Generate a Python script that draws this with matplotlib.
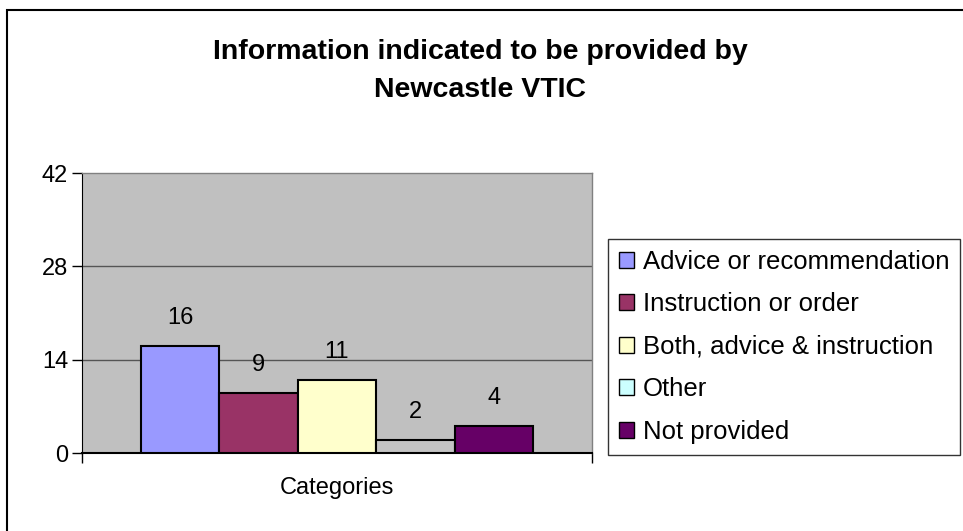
import matplotlib
matplotlib.use("Agg")
import matplotlib.pyplot as plt
from matplotlib.patches import Rectangle
import numpy as np

plt.rcParams['font.family'] = ['Liberation Sans', 'DejaVu Sans']

title = "Information indicated to be provided by\nNewcastle VTIC"
series = ["Advice or recommendation", "Instruction or order", "Both, advice & instruction", "Other", "Not provided"]
values = [16, 9, 11, 2, 4]
colors = ["#9999FF", "#993366", "#FFFFCC", "#CCFFFF", "#660066"]
bar_fill = ["#9999FF", "#993366", "#FFFFCC", "#C4C4C4", "#660066"]
category = "Categories"
yticks = [0, 14, 28, 42]

FS = 17
W, H = 963, 531
fig = plt.figure(figsize=(W / 100, H / 100), dpi=100)
fig.patch.set_facecolor("white")
fig.add_artist(Rectangle((7 / W, 1 - 545 / H), (975 - 7) / W, (545 - 10) / H,
                         transform=fig.transFigure, fill=False, edgecolor="black", lw=1.5))

L, R, T, B = 82, 592, 173, 453
ax = fig.add_axes([L / W, 1 - B / H, (R - L) / W, (B - T) / H])
ax.set_facecolor("#C0C0C0")
ax.set_xlim(-0.5, 0.5)
ax.set_ylim(0, 42)
w = 78.4 / (R - L)
for i, (s, v, c, bf) in enumerate(zip(series, values, colors, bar_fill)):
    x = (i - 2) * w
    ax.bar(x, v, width=w, color=bf, edgecolor="black", lw=1.5, zorder=3)
    ax.text(x, v + 3.3, str(v), ha="center", va="baseline", fontsize=FS, zorder=4)
    ax.bar(np.nan, 0, color=c, edgecolor="black", lw=1, label=s)

for yv in yticks[1:3]:
    ax.axhline(yv, color="#555555", lw=1, zorder=1)

ax.set_yticks(yticks)
ax.set_yticklabels([str(t) for t in yticks], fontsize=FS)
ax.set_xticks([-0.5, 0.5])
ax.set_xticklabels(["", ""])
ax.tick_params(axis="y", length=7, width=1, direction="out", pad=3)
ax.tick_params(axis="x", length=7, width=1, direction="out")
ax.text(0, -5.3, category, ha="center", va="center", fontsize=FS)
for sp in ["top", "right"]:
    ax.spines[sp].set_color("#808080")
    ax.spines[sp].set_linewidth(1)
ax.spines["left"].set_color("black")
ax.spines["bottom"].set_color("black")
ax.spines["bottom"].set_linewidth(1.5)

fig.text(480 / W, 1 - 71 / H, title, ha="center", va="center", fontsize=20.5,
         fontweight="bold", linespacing=1.62)

leg = fig.legend(loc="upper left", bbox_to_anchor=(608 / W, 1 - 239 / H),
                 bbox_transform=fig.transFigure, fontsize=18.5, frameon=True,
                 fancybox=False, edgecolor="black", handlelength=0.6, handleheight=0.6,
                 handletextpad=0.35, labelspacing=0.72, borderpad=0.42, borderaxespad=0)
leg.get_frame().set_linewidth(1)

fig.savefig("out.png", dpi=100)
